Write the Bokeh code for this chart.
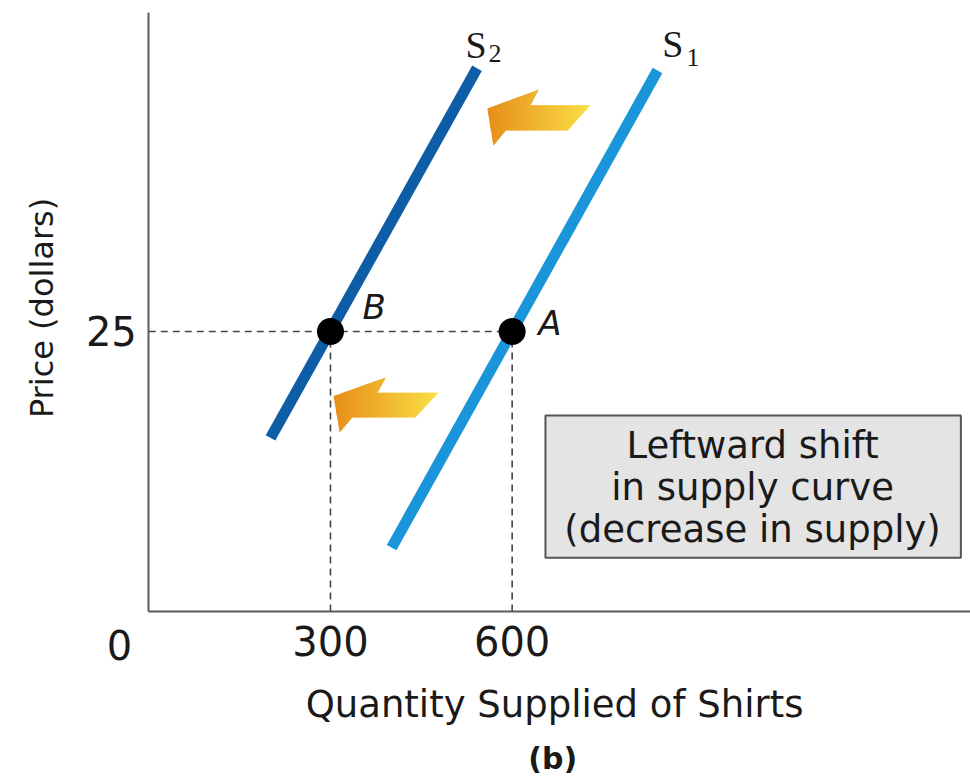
import numpy as np
from bokeh.plotting import figure
from bokeh.models import FixedTicker, Range1d
from bokeh.embed import file_html
from bokeh.resources import INLINE
from bokeh.core.properties import value

# ---- data -------------------------------------------------------------
# supply curves: quantity supplied vs price
s1_qty = [401, 840]
s1_price = [5.7, 48.3]
s2_qty = [201, 542]
s2_price = [15.5, 48.5]

# marked points on the curves at the same price
point_qty = [300, 600]
point_price = [25, 25]
point_names = ["B", "A"]

x_ticks = [300, 600]
y_ticks = [25]

box_lines = ["Leftward shift", "in supply curve", "(decrease in supply)"]

SANS = "DejaVu Sans"
SERIF = "Liberation Serif"
INK = "#1a1a1a"

X_MAX = 1357
Y_MAX = 53.5

# ---- figure: the frame spans the whole canvas, axes sit at the origin --
p = figure(width=970, height=778, output_backend="svg", toolbar_location=None,
           x_range=Range1d(-244.9, 1356.9), y_range=Range1d(-14.91, 54.55),
           min_border=0, x_axis_location="below", y_axis_location="left")
p.outline_line_color = None
p.grid.visible = False
p.background_fill_color = "white"
p.border_fill_color = "white"

for ax in (p.xaxis[0], p.yaxis[0]):
    ax.fixed_location = 0
    ax.axis_line_color = "#5a5a5a"
    ax.axis_line_width = 2
    ax.major_tick_line_color = None
    ax.minor_tick_line_color = None
    ax.major_label_text_font = SANS
    ax.major_label_text_font_size = "40px"
    ax.major_label_text_color = INK

p.xaxis.bounds = (0, X_MAX)
p.yaxis.bounds = (0, Y_MAX)
p.xaxis.ticker = FixedTicker(ticks=x_ticks)
p.yaxis.ticker = FixedTicker(ticks=y_ticks)
p.xaxis.major_label_standoff = 9
p.yaxis.major_label_standoff = 6

# ---- guide lines to the axes -----------------------------------------
dash = dict(line_color="#444444", line_width=1.6, line_dash="7 5")
p.line([0, max(point_qty)], [point_price[0], point_price[0]], **dash)
for q, pr in zip(point_qty, point_price):
    p.line([q, q], [0, pr], **dash)

# ---- shift arrows (gradient drawn as thin vertical strips) -----------
# each arrow: tip quantity, tail quantity, top price, bottom price
arrow_boxes = [(559, 729, 46.6, 41.6), (305, 478, 20.9, 16.0)]
# outline in unit box: u from tip (0) to tail (1), v from top (0) to bottom (1)
ARROW_SHAPE = [(0.50, 0.0), (0.0, 0.34), (0.06, 1.0), (0.18, 0.73),
               (0.78, 0.73), (1.0, 0.28), (0.42, 0.28)]


def clip(poly, u0, keep_greater):
    out = []
    n = len(poly)
    for i in range(n):
        a, b = poly[i], poly[(i + 1) % n]
        ina = a[0] >= u0 if keep_greater else a[0] <= u0
        inb = b[0] >= u0 if keep_greater else b[0] <= u0
        if ina:
            out.append(a)
        if ina != inb:
            t = (u0 - a[0]) / (b[0] - a[0])
            out.append((u0, a[1] + t * (b[1] - a[1])))
    return out


c_tip = np.array([231, 142, 26])
c_tail = np.array([250, 224, 70])
n_strips = 40
axs, ays, acols = [], [], []
for x0, x1, ytop, ybot in arrow_boxes:
    for k in range(n_strips):
        u0, u1 = k / n_strips, min(1.0, (k + 1.6) / n_strips)
        poly = clip(clip(ARROW_SHAPE, u0, True), u1, False)
        if len(poly) < 3:
            continue
        axs.append([x0 + u * (x1 - x0) for u, v in poly])
        ays.append([ytop - v * (ytop - ybot) for u, v in poly])
        t = (k + 0.5) / n_strips
        c = (c_tip + (c_tail - c_tip) * t).astype(int)
        acols.append("#%02x%02x%02x" % tuple(c))
p.patches(axs, ays, fill_color=acols, line_color=None)

# ---- supply curves ----------------------------------------------------
p.line(s1_qty, s1_price, line_color="#1b95d9", line_width=11, line_cap="butt")
p.line(s2_qty, s2_price, line_color="#0d5ea6", line_width=11, line_cap="butt")

p.scatter(point_qty, point_price, size=27, fill_color="black", line_color=None)

# ---- curve and point labels ------------------------------------------
p.text(x=[523, 848], y=[50.6, 50.7], text=["S", "S"], text_font=value(SERIF),
       text_font_size="38px", text_color=INK, text_align="left",
       text_baseline="middle")
p.text(x=[561, 888], y=[49.8, 49.5], text=["2", "1"], text_font=value(SERIF),
       text_font_size="26px", text_color=INK, text_align="left",
       text_baseline="middle")
p.text(x=[353, 643], y=[27.2, 25.8], text=point_names, text_font=value(SANS),
       text_font_style="italic", text_font_size="34px", text_color=INK,
       text_align="left", text_baseline="middle")

# ---- explanation box --------------------------------------------------
p.quad(left=[655], right=[1341], top=[17.5], bottom=[4.8],
       fill_color="#e4e4e4", line_color="#555555", line_width=2)
p.text(x=[997] * 3, y=[14.82, 11.07, 7.32], text=box_lines,
       text_font=value(SANS), text_font_size="37px", text_color=INK,
       text_align="center", text_baseline="middle")

# ---- origin label, axis titles and panel tag -------------------------
p.text(x=[-48.4], y=[-2.96], text=["0"], text_font=value(SANS),
       text_font_size="40px", text_color=INK, text_align="center",
       text_baseline="middle")
p.text(x=[-177], y=[27.1], text=["Price (dollars)"], angle=np.pi / 2,
       text_font=value(SANS), text_font_size="32px", text_color=INK,
       text_align="center", text_baseline="middle")
p.text(x=[670], y=[-8.3], text=["Quantity Supplied of Shirts"],
       text_font=value(SANS), text_font_size="37px", text_color=INK,
       text_align="center", text_baseline="middle")
p.text(x=[667], y=[-13.1], text=["(b)"], text_font=value(SANS),
       text_font_style="bold", text_font_size="30px", text_color=INK,
       text_align="center", text_baseline="middle")

open("out.html", "w").write(file_html(p, INLINE))
